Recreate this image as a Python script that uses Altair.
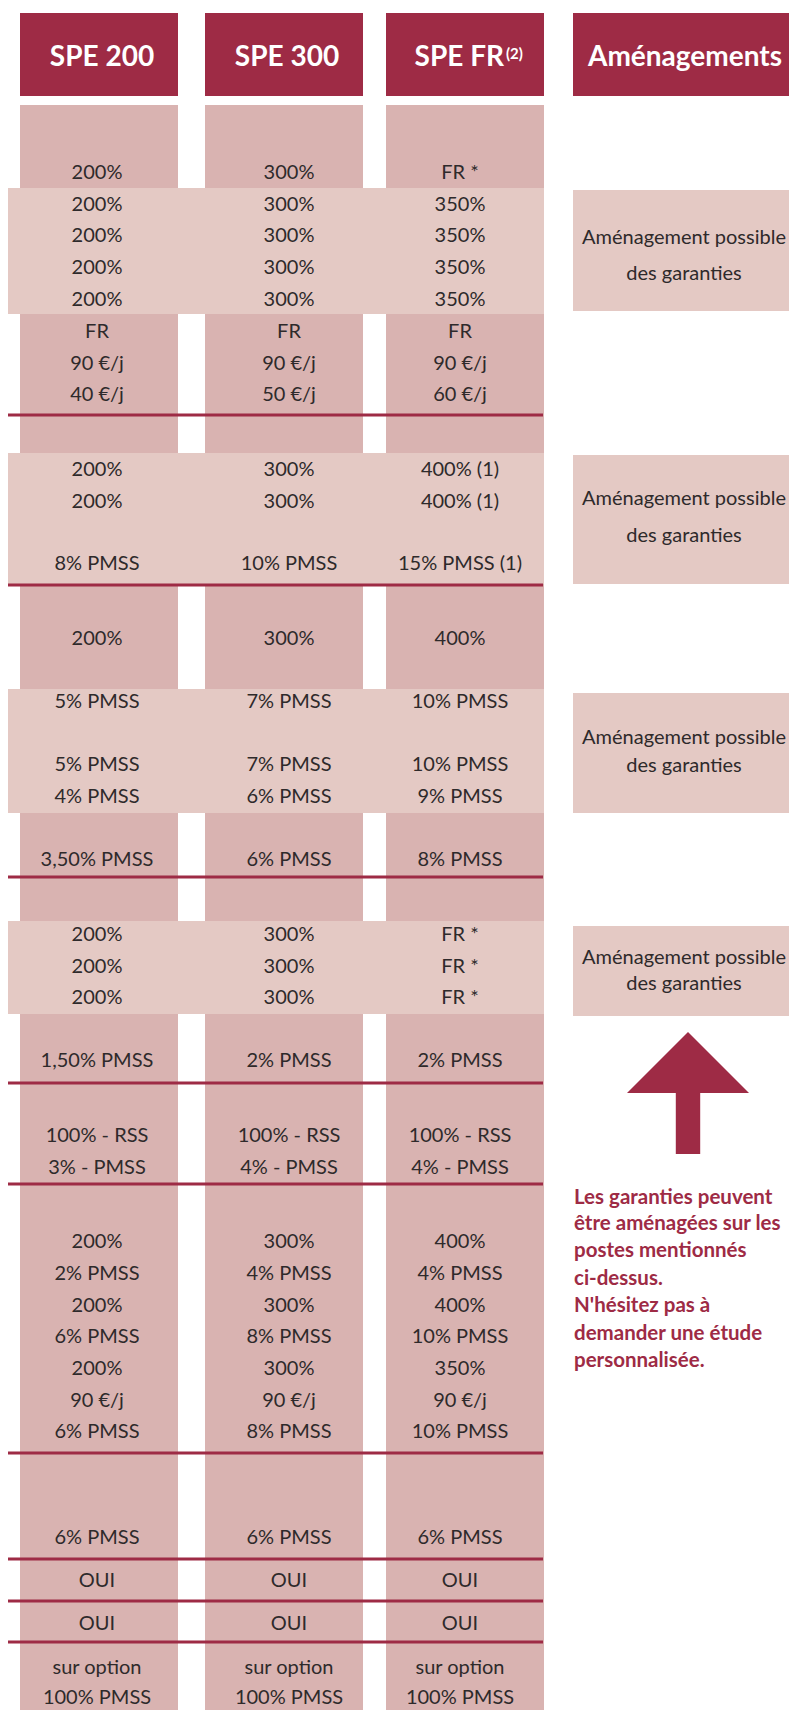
import altair as alt
import pandas as pd

# ---------------- values ----------------
headers = ["SPE 200", "SPE 300", "SPE FR", "Aménagements"]
header_note = "(2)"

spe200 = ["200%", "200%", "200%", "200%", "200%", "FR", "90 €/j", "40 €/j",
          "200%", "200%", "8% PMSS", "200%", "5% PMSS", "5% PMSS", "4% PMSS", "3,50% PMSS",
          "200%", "200%", "200%", "1,50% PMSS", "100% - RSS", "3% - PMSS",
          "200%", "2% PMSS", "200%", "6% PMSS", "200%", "90 €/j", "6% PMSS",
          "6% PMSS", "OUI", "OUI", "sur option", "100% PMSS"]
spe300 = ["300%", "300%", "300%", "300%", "300%", "FR", "90 €/j", "50 €/j",
          "300%", "300%", "10% PMSS", "300%", "7% PMSS", "7% PMSS", "6% PMSS", "6% PMSS",
          "300%", "300%", "300%", "2% PMSS", "100% - RSS", "4% - PMSS",
          "300%", "4% PMSS", "300%", "8% PMSS", "300%", "90 €/j", "8% PMSS",
          "6% PMSS", "OUI", "OUI", "sur option", "100% PMSS"]
spefr = ["FR *", "350%", "350%", "350%", "350%", "FR", "90 €/j", "60 €/j",
         "400% (1)", "400% (1)", "15% PMSS (1)", "400%", "10% PMSS", "10% PMSS", "9% PMSS", "8% PMSS",
         "FR *", "FR *", "FR *", "2% PMSS", "100% - RSS", "4% - PMSS",
         "400%", "4% PMSS", "400%", "10% PMSS", "350%", "90 €/j", "10% PMSS",
         "6% PMSS", "OUI", "OUI", "sur option", "100% PMSS"]

amenagement_lines = ["Aménagement possible", "des garanties"]
note_lines = ["Les garanties peuvent", "être aménagées sur les", "postes mentionnés",
              "ci-dessus.", "N'hésitez pas à", "demander une étude", "personnalisée."]

# ---------------- layout (pixel grid of the page) ----------------
col_x0 = [20, 205, 386, 573]
col_x1 = [178, 363, 544, 797]
text_x = [97, 289, 460]
header_x = [102, 287, 504, 685]
header_top, header_bottom, header_mid = 13, 96, 56
body_top, body_bottom = 105, 1722

row_y = [172, 204, 235, 267, 299, 331, 363, 394,
         469, 501, 563, 638, 701, 764, 796, 859,
         934, 966, 997, 1060, 1135, 1167,
         1241, 1273, 1305, 1336, 1368, 1400, 1431,
         1537, 1580, 1623, 1667, 1697]
separator_y = [415, 585, 877, 1083, 1184, 1453, 1559, 1601, 1642]
band_y = [(188, 314), (453, 584), (689, 813), (921, 1014)]
box_y = [(190, 311), (455, 584), (693, 813), (926, 1016)]
box_text_y = [(237, 273), (498, 535), (737, 765), (957, 983)]
box_text_x = 684
note_x = 574
note_y = [1197, 1223, 1250, 1278, 1305, 1333, 1360]
arrow_xy = (688, 1093)

RED = "#9E2B45"
DARK = "#D9B3B1"
LIGHT = "#E4C9C4"
INK = "#2E2A2B"
FONT = "Lato"

X = alt.Scale(domain=[8, 789], nice=False, zero=False)
Y = alt.Scale(domain=[8, 1710], nice=False, zero=False, reverse=True)


def rect_layer(df, color):
    return alt.Chart(df).mark_rect(color=color, clip=True).encode(
        x=alt.X("x0:Q", scale=X, axis=None), x2="x1:Q",
        y=alt.Y("y0:Q", scale=Y, axis=None), y2="y1:Q")


def text_layer(df, size, color, weight="normal", align="center", dy=1):
    return alt.Chart(df).mark_text(font=FONT, fontSize=size, color=color, fontWeight=weight,
                                   align=align, baseline="middle", dy=dy).encode(
        x=alt.X("x:Q", scale=X, axis=None),
        y=alt.Y("y:Q", scale=Y, axis=None),
        text="label:N")


columns_df = pd.DataFrame({"x0": col_x0[:3], "x1": col_x1[:3],
                           "y0": [body_top] * 3, "y1": [body_bottom] * 3})
headers_df = pd.DataFrame({"x0": col_x0, "x1": col_x1,
                           "y0": [header_top] * 4, "y1": [header_bottom] * 4})
bands_df = pd.DataFrame({"x0": [1] * 4, "x1": [col_x1[2]] * 4,
                         "y0": [b[0] for b in band_y], "y1": [b[1] for b in band_y]})
boxes_df = pd.DataFrame({"x0": [col_x0[3]] * 4, "x1": [col_x1[3]] * 4,
                         "y0": [b[0] for b in box_y], "y1": [b[1] for b in box_y]})

sep_df = pd.DataFrame({"x0": [0] * len(separator_y), "x1": [col_x1[2] - 1] * len(separator_y),
                       "y": separator_y})
separators = alt.Chart(sep_df).mark_rule(color=RED, strokeWidth=2.8, clip=True).encode(
    x=alt.X("x0:Q", scale=X, axis=None), x2="x1:Q",
    y=alt.Y("y:Q", scale=Y, axis=None))

values = [spe200, spe300, spefr]
cells = []
for c, vals in enumerate(values):
    for i, v in enumerate(vals):
        cells.append({"x": text_x[c], "y": row_y[i], "label": v})
cells_df = pd.DataFrame(cells)

head_df = pd.DataFrame({"x": [header_x[0], header_x[1], header_x[3]],
                        "y": [header_mid] * 3,
                        "label": [headers[0], headers[1], headers[3]]})
head_fr_df = pd.DataFrame({"x": [header_x[2]], "y": [header_mid], "label": [headers[2]]})
head_note_df = pd.DataFrame({"x": [header_x[2] + 2], "y": [header_mid - 2], "label": [header_note]})

box_rows = []
for (y1, y2) in box_text_y:
    box_rows.append({"x": box_text_x, "y": y1, "label": amenagement_lines[0]})
    box_rows.append({"x": box_text_x, "y": y2, "label": amenagement_lines[1]})
box_text_df = pd.DataFrame(box_rows)

note_df = pd.DataFrame({"x": [note_x] * len(note_lines), "y": note_y, "label": note_lines})

arrow_df = pd.DataFrame({"x": [arrow_xy[0]], "y": [arrow_xy[1]]})
arrow = alt.Chart(arrow_df).mark_point(
    shape="M0,-1L1,0L0.2,0L0.2,1L-0.2,1L-0.2,0L-1,0Z",
    size=122 * 122, filled=True, color=RED, opacity=1, strokeWidth=0).encode(
    x=alt.X("x:Q", scale=X, axis=None), y=alt.Y("y:Q", scale=Y, axis=None))

chart = alt.layer(
    rect_layer(columns_df, DARK),
    rect_layer(headers_df, RED),
    rect_layer(bands_df, LIGHT),
    rect_layer(boxes_df, LIGHT),
    separators,
    text_layer(cells_df, 20, INK),
    text_layer(head_df, 28, "white", weight="bold", dy=2),
    text_layer(head_fr_df, 28, "white", weight="bold", align="right", dy=2),
    text_layer(head_note_df, 15, "white", weight="bold", align="left", dy=0),
    text_layer(box_text_df, 20, INK),
    text_layer(note_df, 20.5, RED, weight="bold", align="left"),
    arrow,
).properties(
    width=781, height=1702, padding=0,
    autosize=alt.AutoSizeParams(type="none"),
).configure_view(strokeWidth=0)

chart.save("out.html", embed_options={"renderer": "svg", "actions": False})
